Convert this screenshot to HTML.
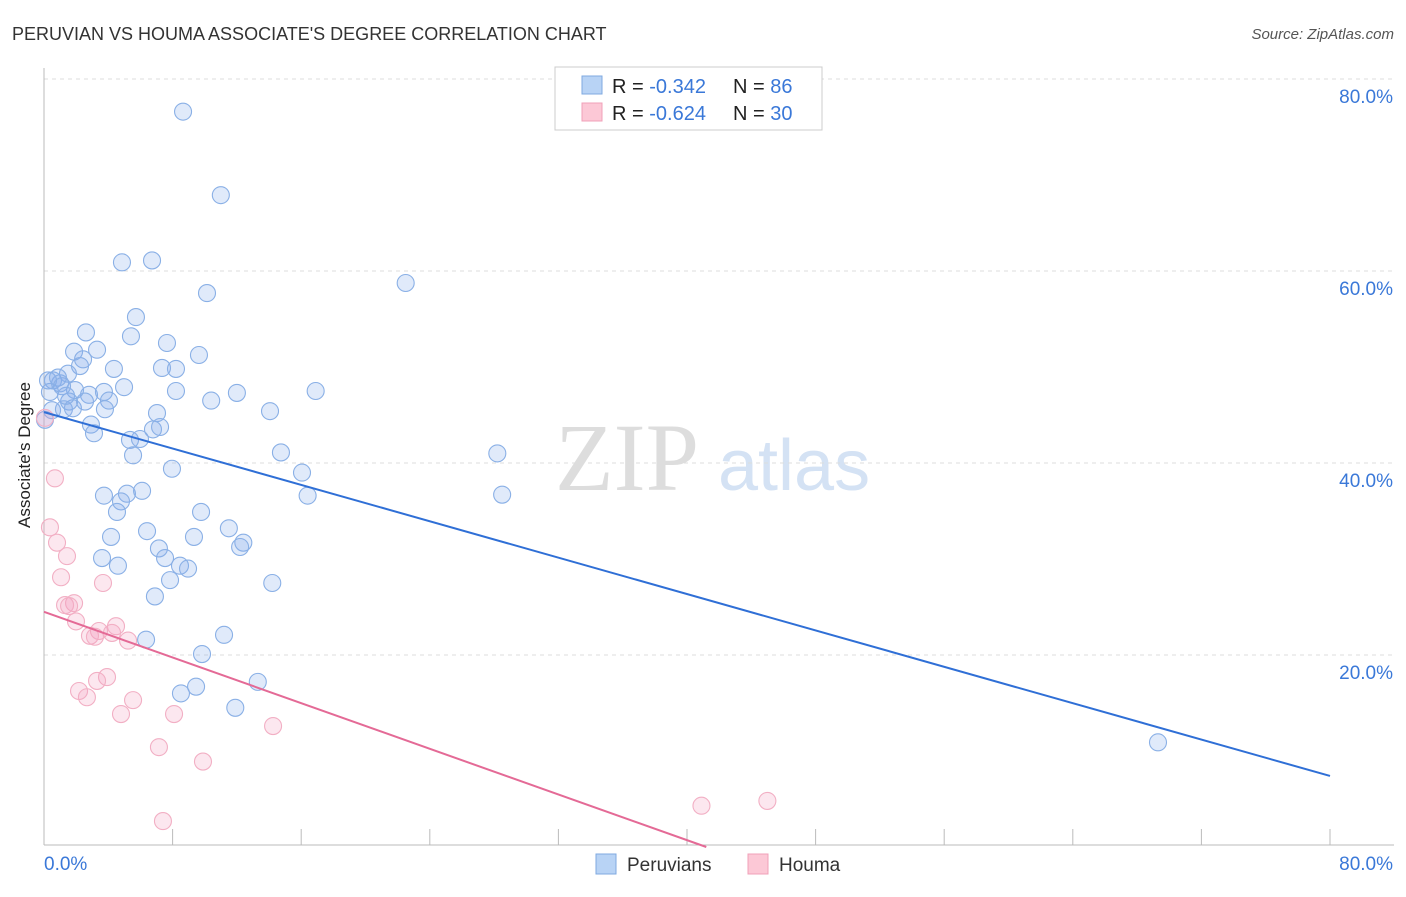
<!DOCTYPE html>
<html><head><meta charset="utf-8"><style>
body{margin:0;background:#fff;font-family:"Liberation Sans",sans-serif}
svg text{font-family:"Liberation Sans",sans-serif}
</style></head><body>
<svg id="c" width="1406" height="892" xmlns="http://www.w3.org/2000/svg">
<text x="12" y="40" font-size="18" fill="#333">PERUVIAN VS HOUMA ASSOCIATE'S DEGREE CORRELATION CHART</text>
<text x="1394" y="39" font-size="15" fill="#555" font-style="italic" text-anchor="end">Source: ZipAtlas.com</text>
<text x="555" y="490" font-size="96" fill="#ddd" style="font-family:'Liberation Serif',serif">ZIP</text>
<text x="718" y="490" font-size="72" fill="#d4e2f4">atlas</text>
<text x="30" y="455" font-size="17" fill="#222" text-anchor="middle" transform="rotate(-90 30 455)">Associate's Degree</text>
<g id="grid"></g><g id="marks"></g>
<g>
<rect x="555" y="67" width="267" height="63" fill="#fff" stroke="#ccc"/>
<rect x="582" y="76" width="20" height="18" fill="#b8d3f5" stroke="#7fa9e0"/>
<rect x="582" y="103" width="20" height="18" fill="#fcc8d6" stroke="#f0a0b8"/>
<text x="612" y="93" font-size="20" fill="#222">R = <tspan fill="#3a78d8">-0.342</tspan></text>
<text x="733" y="93" font-size="20" fill="#222">N = <tspan fill="#3a78d8">86</tspan></text>
<text x="612" y="120" font-size="20" fill="#222">R = <tspan fill="#3a78d8">-0.624</tspan></text>
<text x="733" y="120" font-size="20" fill="#222">N = <tspan fill="#3a78d8">30</tspan></text>
</g>
<g>
<rect x="596" y="854" width="20" height="20" fill="#b8d3f5" stroke="#7fa9e0"/>
<text x="627" y="871" font-size="19" fill="#333">Peruvians</text>
<rect x="748" y="854" width="20" height="20" fill="#fcc8d6" stroke="#f0a0b8"/>
<text x="779" y="871" font-size="19" fill="#333">Houma</text>
</g>
</svg>
<script>
const yTicks=[20,40,60,80];
const yTickLabels=["20.0%","40.0%","60.0%","80.0%"];
const xTicks=[0,8,16,24,32,40,48,56,64,72,80];
const peruX=[8.65,11.0,4.85,6.72,10.14,22.5,5.72,2.61,5.41,7.65,1.87,3.30,2.43,9.64,7.34,8.21,2.24,4.35,1.49,0.56,1.0,4.98,8.21,12.0,16.9,2.8,3.73,1.93,4.04,1.56,10.4,1.24,1.8,3.79,7.03,14.06,2.92,6.78,3.11,7.22,5.35,5.97,5.54,14.74,28.2,7.96,16.05,3.73,5.16,6.1,4.79,16.4,28.5,4.54,9.77,6.41,11.5,4.17,9.33,12.4,7.15,12.2,3.61,7.53,4.6,8.46,8.96,7.84,14.2,6.9,6.35,11.2,9.83,13.3,9.46,8.52,11.9,69.3,0.37,0.5,0.25,0.06,0.87,1.12,1.37,2.55];
const peruY=[76.6,67.9,60.9,61.1,57.7,58.75,55.2,53.6,53.2,52.5,51.6,51.8,50.8,51.25,49.9,49.8,50.1,49.8,49.3,48.6,48.3,47.9,47.5,47.3,47.5,47.1,47.4,47.6,46.5,46.4,46.5,45.6,45.7,45.6,45.2,45.4,44.0,43.5,43.1,43.75,42.4,42.5,40.8,41.1,41.0,39.4,39.0,36.6,36.8,37.1,36.0,36.6,36.7,34.9,34.9,32.9,33.2,32.3,32.3,31.7,31.1,31.25,30.1,30.1,29.3,29.3,29.0,27.8,27.5,26.1,21.6,22.1,20.1,17.2,16.7,16.0,14.5,10.9,47.4,45.5,48.6,44.5,48.9,48.0,47.0,46.4];
const houmaX=[0.68,0.37,0.81,1.43,1.06,3.67,1.87,1.31,1.56,1.99,4.48,3.42,2.86,4.23,3.17,5.23,3.92,3.30,2.18,2.67,5.54,4.79,8.09,14.25,7.15,9.89,7.4,40.9,45.0,0.06];
const houmaY=[38.4,33.3,31.7,30.3,28.1,27.5,25.4,25.2,25.1,23.5,23.0,22.5,22.0,22.3,21.9,21.5,17.7,17.3,16.25,15.6,15.3,13.85,13.85,12.6,10.4,8.9,2.7,4.3,4.8,44.7];
const peruTrend=[45.3,7.4];
const houmaTrend=[24.5,0];
const houmaTrendEndX=41.2;
const NS="http://www.w3.org/2000/svg";
const X=v=>44+v*16.075, Y=v=>847-v*9.6;
function mk(t,a,p){const e=document.createElementNS(NS,t);for(const k in a)e.setAttribute(k,a[k]);p.appendChild(e);return e;}
const grid=document.getElementById('grid'), marks=document.getElementById('marks');
yTicks.forEach((t,i)=>{
 const l=mk('line',{x1:44,x2:1394,y1:Y(t),y2:Y(t),stroke:'#ddd','stroke-dasharray':'4,4'},grid);
 
 
 const tx=mk('text',{x:1393,y:Y(t)+24,'font-size':19,fill:'#3a78d8','text-anchor':'end'},grid);
 tx.textContent=yTickLabels[i];
 
 
});
const ax=mk('line',{x1:44,x2:44,y1:68,y2:845,stroke:'#bbb'},grid);


const bx=mk('line',{x1:44,x2:1394,y1:845,y2:845,stroke:'#bbb'},grid);


xTicks.forEach(t=>{
 const l=mk('line',{x1:X(t),x2:X(t),y1:829,y2:845,stroke:'#bbb'},grid);
 
 
});
const x0=mk('text',{x:44,y:870,'font-size':19,fill:'#3a78d8'},grid);x0.textContent='0.0%';


const x1=mk('text',{x:1393,y:870,'font-size':19,fill:'#3a78d8','text-anchor':'end'},grid);x1.textContent='80.0%';


peruX.forEach((v,i)=>{
 const c=mk('circle',{cx:X(v),cy:Y(peruY[i]),r:8.5,fill:'rgba(130,170,235,0.25)',stroke:'#8ab0e6','stroke-width':1.1},marks);
 
 
});
houmaX.forEach((v,i)=>{
 const c=mk('circle',{cx:X(v),cy:Y(houmaY[i]),r:8.5,fill:'rgba(245,160,190,0.25)',stroke:'#f2afc4','stroke-width':1.1},marks);
 
 
});
const pl=mk('line',{x1:X(0),y1:Y(peruTrend[0]),x2:X(80),y2:Y(peruTrend[1]),stroke:'#2f6fd6','stroke-width':2},marks);


const hl=mk('line',{x1:X(0),y1:Y(houmaTrend[0]),x2:X(houmaTrendEndX),y2:Y(houmaTrend[1]),stroke:'#e46a96','stroke-width':2},marks);


</script>
</body></html>
